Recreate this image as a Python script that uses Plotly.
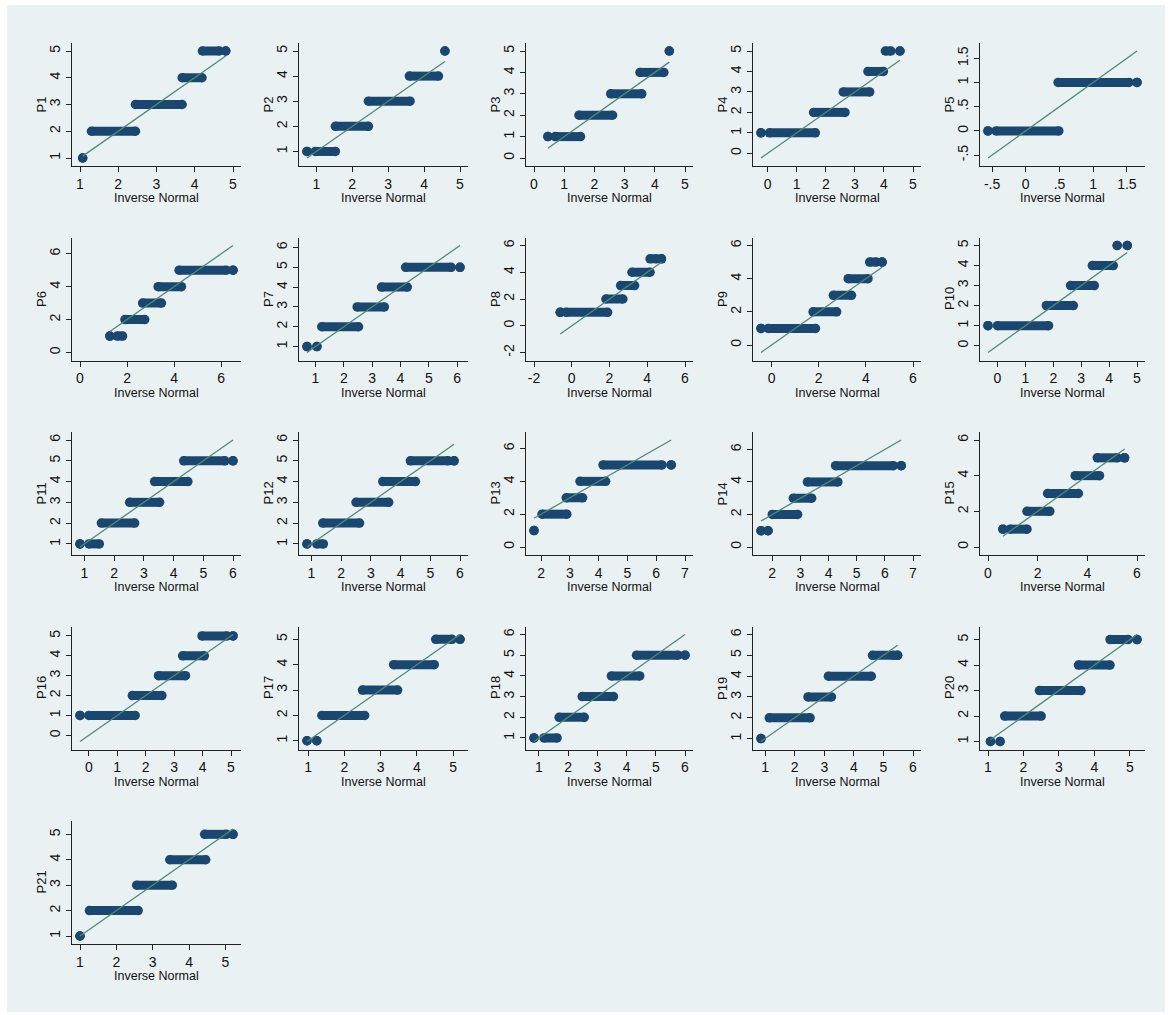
import plotly.graph_objects as go

# Each run is (response level, first inverse-normal x, last inverse-normal x).
# A run whose two x values are equal is a single isolated point.
P1 = [(1, 1.07, 1.07), (2, 1.30, 2.45), (3, 2.45, 3.67), (4, 3.67, 4.19), (5, 4.20, 4.64), (5, 4.81, 4.81)]
P2 = [(1, 0.74, 0.74), (1, 0.97, 1.53), (2, 1.53, 2.45), (3, 2.45, 3.61), (4, 3.59, 4.40), (5, 4.58, 4.58)]
P3 = [(1, 0.46, 0.46), (1, 0.70, 1.54), (2, 1.49, 2.60), (3, 2.54, 3.57), (4, 3.51, 4.30), (5, 4.48, 4.48)]
P4 = [(1, -0.23, -0.23), (1, 0.06, 1.64), (2, 1.58, 2.66), (3, 2.60, 3.51), (4, 3.45, 3.98), (5, 4.05, 4.24), (5, 4.55, 4.55)]
P5 = [(0, -0.56, -0.56), (0, -0.44, 0.49), (1, 0.48, 1.53), (1, 1.65, 1.65)]
P6 = [(1, 1.27, 1.27), (1, 1.58, 1.81), (2, 1.91, 2.75), (3, 2.66, 3.46), (4, 3.32, 4.31), (5, 4.21, 6.21), (5, 6.50, 6.50)]
P7 = [(1, 0.70, 0.70), (1, 1.05, 1.05), (2, 1.22, 2.52), (3, 2.47, 3.43), (4, 3.33, 4.24), (5, 4.18, 5.79), (5, 6.10, 6.10)]
P8 = [(1, -0.61, -0.61), (1, -0.30, 1.90), (2, 1.81, 2.71), (3, 2.59, 3.33), (4, 3.19, 4.15), (5, 4.15, 4.49), (5, 4.75, 4.75)]
P9 = [(1, -0.45, -0.45), (1, -0.14, 1.86), (2, 1.76, 2.76), (3, 2.62, 3.39), (4, 3.25, 4.09), (5, 4.16, 4.44), (5, 4.69, 4.69)]
P10 = [(1, -0.34, -0.34), (1, 0.00, 1.83), (2, 1.75, 2.72), (3, 2.62, 3.47), (4, 3.40, 4.15), (5, 4.29, 4.29), (5, 4.65, 4.65)]
P11 = [(1, 0.85, 0.85), (1, 1.15, 1.50), (2, 1.57, 2.69), (3, 2.52, 3.53), (4, 3.36, 4.48), (5, 4.34, 5.73), (5, 6.00, 6.00)]
P12 = [(1, 0.85, 0.85), (1, 1.18, 1.40), (2, 1.38, 2.62), (3, 2.50, 3.60), (4, 3.40, 4.50), (5, 4.33, 5.60), (5, 5.80, 5.80)]
P13 = [(1, 1.75, 1.75), (2, 2.03, 2.89), (3, 2.87, 3.44), (4, 3.35, 4.24), (5, 4.15, 6.20), (5, 6.52, 6.52)]
P14 = [(1, 1.60, 1.60), (1, 1.85, 1.85), (2, 2.00, 2.90), (3, 2.75, 3.40), (4, 3.25, 4.33), (5, 4.25, 6.30), (5, 6.58, 6.58)]
P15 = [(1, 0.60, 0.60), (1, 0.89, 1.57), (2, 1.57, 2.49), (3, 2.40, 3.64), (4, 3.51, 4.49), (5, 4.40, 5.21), (5, 5.50, 5.50)]
P16 = [(1, -0.31, -0.31), (1, 0.00, 1.63), (2, 1.53, 2.57), (3, 2.45, 3.40), (4, 3.30, 4.06), (5, 3.98, 4.86), (5, 5.07, 5.07)]
P17 = [(1, 0.97, 0.97), (1, 1.24, 1.24), (2, 1.38, 2.56), (3, 2.50, 3.47), (4, 3.36, 4.48), (5, 4.52, 4.97), (5, 5.19, 5.19)]
P18 = [(1, 0.83, 0.83), (1, 1.17, 1.62), (2, 1.69, 2.55), (3, 2.48, 3.55), (4, 3.48, 4.45), (5, 4.34, 5.76), (5, 6.00, 6.00)]
P19 = [(1, 0.86, 0.86), (2, 1.14, 2.52), (3, 2.45, 3.24), (4, 3.14, 4.59), (5, 4.63, 5.35), (5, 5.48, 5.48)]
P20 = [(1, 1.07, 1.07), (1, 1.34, 1.34), (2, 1.47, 2.50), (3, 2.45, 3.62), (4, 3.55, 4.44), (5, 4.44, 4.95), (5, 5.20, 5.20)]
P21 = [(1, 1.00, 1.00), (2, 1.26, 2.60), (3, 2.56, 3.54), (4, 3.47, 4.46), (5, 4.43, 5.03), (5, 5.21, 5.21)]

NAMES = [f"P{i}" for i in range(1, 22)]
SERIES = [P1, P2, P3, P4, P5, P6, P7, P8, P9, P10, P11, P12, P13, P14, P15, P16, P17, P18, P19, P20, P21]

X_TICKS = [
    [1, 2, 3, 4, 5], [1, 2, 3, 4, 5], [0, 1, 2, 3, 4, 5], [0, 1, 2, 3, 4, 5], [-0.5, 0, 0.5, 1, 1.5],
    [0, 2, 4, 6], [1, 2, 3, 4, 5, 6], [-2, 0, 2, 4, 6], [0, 2, 4, 6], [0, 1, 2, 3, 4, 5],
    [1, 2, 3, 4, 5, 6], [1, 2, 3, 4, 5, 6], [2, 3, 4, 5, 6, 7], [2, 3, 4, 5, 6, 7], [0, 2, 4, 6],
    [0, 1, 2, 3, 4, 5], [1, 2, 3, 4, 5], [1, 2, 3, 4, 5, 6], [1, 2, 3, 4, 5, 6], [1, 2, 3, 4, 5],
    [1, 2, 3, 4, 5],
]
Y_TICKS = [
    [1, 2, 3, 4, 5], [1, 2, 3, 4, 5], [0, 1, 2, 3, 4, 5], [0, 1, 2, 3, 4, 5], [-0.5, 0, 0.5, 1, 1.5],
    [0, 2, 4, 6], [1, 2, 3, 4, 5, 6], [-2, 0, 2, 4, 6], [0, 2, 4, 6], [0, 1, 2, 3, 4, 5],
    [1, 2, 3, 4, 5, 6], [1, 2, 3, 4, 5, 6], [0, 2, 4, 6], [0, 2, 4, 6], [0, 2, 4, 6],
    [0, 1, 2, 3, 4, 5], [1, 2, 3, 4, 5], [1, 2, 3, 4, 5, 6], [1, 2, 3, 4, 5, 6], [1, 2, 3, 4, 5],
    [1, 2, 3, 4, 5],
]

W, H = 1172, 1015
COL_LEFT = [72, 299, 526, 753, 980]
COL_RIGHT = [241, 468, 693, 921, 1145]
ROW_TOP = [43, 237.5, 432, 626.5, 821]
ROW_BOTTOM = [166, 360.5, 555, 749.5, 944]
PAD = 8  # inner plot-region margin, px

NAVY = "#1a476f"
REF = "#4f8a78"
BG = "#eaf1f3"
FONT = "Liberation Sans, Arial, sans-serif"
INK = "#111"


def stata_label(v):
    if float(v).is_integer():
        return str(int(v))
    s = f"{v:g}"
    return s.replace("0.", ".", 1)


def padded(lo, hi, length):
    d = (hi - lo) * PAD / (length - 2 * PAD)
    return [lo - d, hi + d]


fig = go.Figure()
notes = []

for k, (name, runs) in enumerate(zip(NAMES, SERIES)):
    r, c = divmod(k, 5)
    ax = "" if k == 0 else str(k + 1)
    xs, ys = [], []
    for lvl, x0, x1 in runs:
        xs += [x0, x1, None]
        ys += [lvl, lvl, None]
    xmin = min(x0 for _, x0, _ in runs)
    xmax = max(x1 for _, _, x1 in runs)

    fig.add_trace(go.Scatter(
        x=xs, y=ys, mode="lines+markers", xaxis="x" + ax, yaxis="y" + ax,
        line=dict(color=NAVY, width=9), marker=dict(color=NAVY, size=9.5),
        connectgaps=False, hoverinfo="skip", showlegend=False,
    ))
    fig.add_trace(go.Scatter(
        x=[xmin, xmax], y=[xmin, xmax], mode="lines", xaxis="x" + ax, yaxis="y" + ax,
        line=dict(color=REF, width=1.3), hoverinfo="skip", showlegend=False,
    ))

    xt, yt = X_TICKS[k], Y_TICKS[k]
    levels = [lvl for lvl, _, _ in runs]
    xlo, xhi = min(xt[0], xmin), max(xt[-1], xmax)
    ylo, yhi = min(yt[0], min(levels), xmin), max(yt[-1], max(levels), xmax)
    L, R = COL_LEFT[c], COL_RIGHT[c]
    T, B = ROW_TOP[r], ROW_BOTTOM[r]

    common = dict(
        showline=True, linecolor="#222", linewidth=1, mirror=False,
        ticks="outside", ticklen=5, tickwidth=1, tickcolor="#222",
        showgrid=False, zeroline=False,
        tickfont=dict(family=FONT, size=14, color=INK),
    )
    fig.layout["xaxis" + ax] = dict(
        common, domain=[L / W, R / W], anchor="y" + ax,
        range=padded(xlo, xhi, R - L),
        tickmode="array", tickvals=xt, ticktext=[stata_label(v) for v in xt],
    )
    fig.layout["yaxis" + ax] = dict(
        common, domain=[1 - B / H, 1 - T / H], anchor="x" + ax,
        range=padded(ylo, yhi, B - T),
        tickmode="array", tickvals=yt, ticktext=[stata_label(v) for v in yt],
        tickangle=-90,
    )

    # axis titles placed at fixed offsets from the plot region
    notes.append(dict(text="Inverse Normal", xref="paper", yref="paper",
                      x=(L + R) / 2 / W, y=1 - (B + 32) / H, showarrow=False,
                      xanchor="center", yanchor="middle",
                      font=dict(family=FONT, size=12.5, color=INK)))
    notes.append(dict(text=name, xref="paper", yref="paper", textangle=-90,
                      x=(L - 31) / W, y=1 - (T + B) / 2 / H, showarrow=False,
                      xanchor="center", yanchor="middle",
                      font=dict(family=FONT, size=13, color=INK)))

fig.add_shape(type="rect", xref="paper", yref="paper", x0=7 / W, x1=1165 / W,
              y0=1 - 1012 / H, y1=1 - 5 / H, fillcolor=BG, line=dict(width=0), layer="below")

fig.update_layout(
    width=W, height=H, margin=dict(l=0, r=0, t=0, b=0),
    paper_bgcolor="white", plot_bgcolor="white",
    font=dict(family=FONT, size=14, color=INK),
    annotations=notes,
)

fig.write_html("out.html")
